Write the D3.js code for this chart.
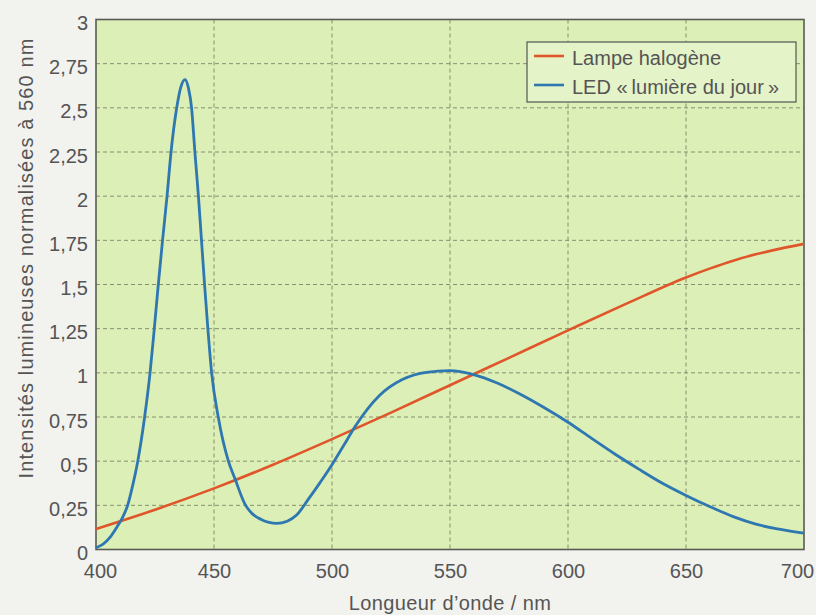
<!DOCTYPE html>
<html><head><meta charset="utf-8">
<script src="https://cdn.jsdelivr.net/npm/d3@7"></script>
<style>
html,body{margin:0;padding:0;background:#f2f2ef;}
svg{display:block;font-family:"Liberation Sans",Arial,sans-serif;}
</style></head>
<body>
<svg id="c" width="816" height="615"></svg>
<script>
const xTicks = [400, 450, 500, 550, 600, 650, 700];
const yTicks = [0, 0.25, 0.5, 0.75, 1, 1.25, 1.5, 1.75, 2, 2.25, 2.5, 2.75, 3];
const seriesNames = ["Lampe halogène", "LED «\u202Flumière du jour\u202F»"];
const seriesColors = ["#e0562a", "#2e77b0"];
const halogenNm = [400, 425, 450, 475, 500, 525, 550, 575, 600, 625, 650, 660, 670, 680, 690, 700];
const halogenVal = [0.116, 0.225, 0.346, 0.48, 0.625, 0.775, 0.93, 1.085, 1.24, 1.393, 1.54, 1.59, 1.635, 1.672, 1.703, 1.73];
const ledNm = [400, 403, 406, 409, 411, 413.4, 415.5, 417.7, 420.6, 422.9, 424.7, 426.4, 428.2, 430.1, 431.8, 434.2, 436, 437.7, 439.2, 440.5, 441.9, 443.4, 444.7, 446, 447.4, 449, 451.8, 456.1, 458.9, 463, 466, 470, 476.6, 481, 485, 490, 495, 500, 505, 510, 520, 530, 540, 550, 560, 570, 580, 590, 600, 610, 620, 630, 640, 650, 660, 670, 680, 690, 700];
const ledVal = [0.01, 0.03, 0.07, 0.13, 0.175, 0.25, 0.36, 0.5, 0.75, 1.0, 1.25, 1.5, 1.75, 2.0, 2.25, 2.5, 2.62, 2.66, 2.61, 2.5, 2.25, 2.0, 1.75, 1.5, 1.25, 1.0, 0.75, 0.5, 0.4, 0.26, 0.205, 0.17, 0.148, 0.16, 0.195, 0.285, 0.38, 0.48, 0.59, 0.7, 0.87, 0.963, 1.003, 1.012, 0.99, 0.942, 0.877, 0.802, 0.72, 0.629, 0.539, 0.455, 0.375, 0.306, 0.243, 0.186, 0.142, 0.114, 0.092];

const svg = d3.select("#c");
const L = 96, R = 804, T = 19.5, B = 549.5;
const x = d3.scaleLinear().domain([400, 700]).range([L, R]);
const y = d3.scaleLinear().domain([0, 3]).range([B, T]);
const fmt = d => d3.format("")(d).replace(".", ",");

svg.append("rect").attr("x", L).attr("y", T).attr("width", R - L).attr("height", B - T).attr("fill", "#dbefb6");

// grid
const g = svg.append("g");
g.selectAll(".gy").data(yTicks.filter(d => d > 0 && d < 3)).join("line")
  .attr("x1", L).attr("x2", R).attr("y1", d => y(d)).attr("y2", d => y(d))
  .attr("stroke", "#7f8468").attr("stroke-width", 0.9).attr("stroke-dasharray", "4,3");
g.selectAll(".gx").data(xTicks.filter(d => d > 400 && d < 700)).join("line")
  .attr("y1", T).attr("y2", B).attr("x1", d => x(d)).attr("x2", d => x(d))
  .attr("stroke", "#7f8468").attr("stroke-width", 0.9).attr("stroke-dasharray", "4,3");

// axes
const xAxis = d3.axisBottom(x).tickValues(xTicks).tickSize(0).tickPadding(14.3).tickFormat(d => d);
const yAxis = d3.axisLeft(y).tickValues(yTicks).tickSize(0).tickPadding(8).tickFormat(fmt);
const gx = svg.append("g").attr("transform", `translate(0,${B})`).call(xAxis);
const gy = svg.append("g").attr("transform", `translate(${L},0)`).call(yAxis);
[gx, gy].forEach(a => {
  a.select(".domain").remove();
  a.selectAll("text").attr("fill", "#555").attr("font-size", 20).attr("font-family", "Liberation Sans, Arial, sans-serif");
});
gy.selectAll("text").attr("dy", "0.5em");
gx.selectAll("text").attr("dx", d => d === 400 ? 4 : d === 700 ? -7 : 0);

// frame
svg.append("rect").attr("x", L).attr("y", T).attr("width", R - L).attr("height", B - T)
  .attr("fill", "none").attr("stroke", "#5a5a55").attr("stroke-width", 1.6);

// lines
const line = d3.line().x(d => x(d[0])).y(d => y(d[1])).curve(d3.curveMonotoneX);
const halogen = halogenNm.map((n, i) => [n, halogenVal[i]]);
const led = ledNm.map((n, i) => [n, ledVal[i]]);
svg.append("path").datum(halogen).attr("d", line).attr("fill", "none").attr("stroke", seriesColors[0]).attr("stroke-width", 2.6);
svg.append("path").datum(led).attr("d", line).attr("fill", "none").attr("stroke", seriesColors[1]).attr("stroke-width", 2.8);

// axis titles
svg.append("text").attr("x", 450).attr("y", 610).attr("text-anchor", "middle")
  .attr("fill", "#555").attr("font-size", 20).attr("letter-spacing", 0.4).text("Longueur d’onde / nm");
svg.append("text").attr("transform", `translate(33,258) rotate(-90)`).attr("text-anchor", "middle")
  .attr("fill", "#555").attr("font-size", 20).attr("letter-spacing", 1.1).text("Intensités lumineuses normalisées à 560 nm");

// legend
const lg = svg.append("g");
lg.append("rect").attr("x", 527).attr("y", 42).attr("width", 269).attr("height", 60)
  .attr("fill", "#e4f3c8").attr("stroke", "#555").attr("stroke-width", 1.2);
seriesNames.forEach((n, i) => {
  const yy = 56 + i * 29;
  lg.append("line").attr("x1", 534).attr("x2", 564).attr("y1", yy).attr("y2", yy)
    .attr("stroke", seriesColors[i]).attr("stroke-width", 2.6);
  lg.append("text").attr("x", 572).attr("y", yy + 8.5).attr("fill", "#555").attr("font-size", 20).text(n);
});
</script>
</body></html>
